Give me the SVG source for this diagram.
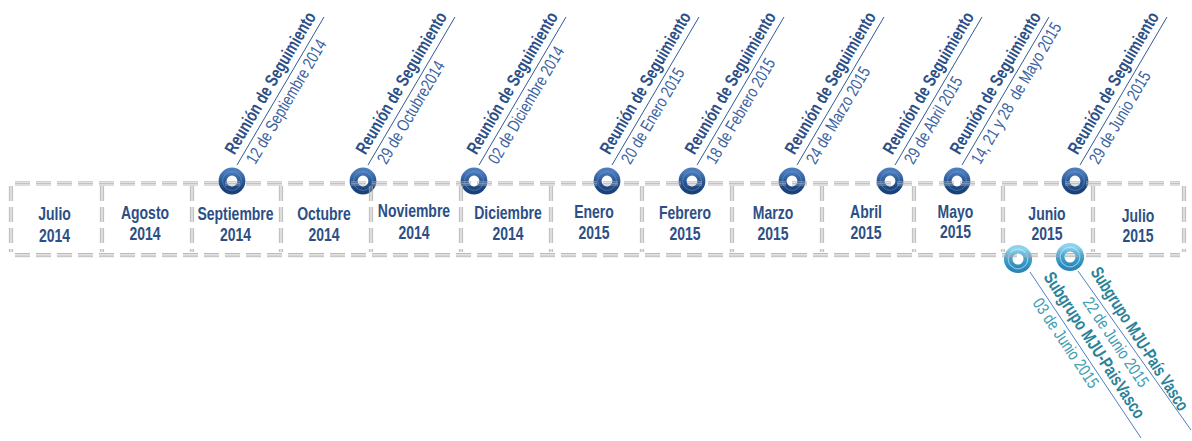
<svg xmlns="http://www.w3.org/2000/svg" width="1192" height="441" viewBox="0 0 1192 441">
<defs>
<style>
.fr line{stroke:#a9a9a9;stroke-width:0.8;stroke-dasharray:15 6;fill:none}
.mo{font-family:"Liberation Sans",Arial,sans-serif;font-weight:bold;font-size:17.5px;fill:#2c4f86;text-anchor:middle}
.rt{font-family:"Liberation Sans",Arial,sans-serif;font-weight:bold;font-size:18px;fill:#2c4f86}
.rd{font-family:"Liberation Sans",Arial,sans-serif;font-size:17px;fill:#3a62a0}
.sb{font-family:"Liberation Sans",Arial,sans-serif;font-weight:bold;font-size:18px;fill:#2b8298}
.sd{font-family:"Liberation Sans",Arial,sans-serif;font-size:17px;fill:#3c9db2}
.ld{stroke:#2f5c98;stroke-width:1;fill:none}
.ll{stroke:#4f80c2;stroke-width:1;fill:none}
</style>
<linearGradient id="gDark" x1="0" y1="0" x2="0" y2="1">
<stop offset="0" stop-color="#4c7cbc"/>
<stop offset="0.5" stop-color="#2a5896"/>
<stop offset="1" stop-color="#1a4279"/>
</linearGradient>
<linearGradient id="gLight" x1="0" y1="0" x2="0" y2="1">
<stop offset="0" stop-color="#8fd2ec"/>
<stop offset="0.45" stop-color="#45a4d0"/>
<stop offset="1" stop-color="#2a86b8"/>
</linearGradient>
<g id="ringD">
<circle r="9.4" fill="none" stroke="url(#gDark)" stroke-width="8"/>
<circle r="9.4" fill="none" stroke="#7ea6d8" stroke-width="1" opacity="0.45"/>
</g>
<g id="ringL">
<circle r="9.8" fill="none" stroke="url(#gLight)" stroke-width="8.6"/>
<circle r="9.8" fill="none" stroke="#c8eefa" stroke-width="1.2" opacity="0.6"/>
</g>
<g id="div" stroke="#a9a9a9" stroke-width="0.8" stroke-dasharray="15 6" fill="none">
<line x1="-1.6" y1="186" x2="-1.6" y2="252"/>
<line x1="0" y1="186" x2="0" y2="252"/>
<line x1="1.6" y1="186" x2="1.6" y2="252"/>
</g>
</defs>
<rect width="1192" height="441" fill="#ffffff"/>

<g id="rings">
<use href="#ringD" x="232" y="181"/>
<use href="#ringD" x="363" y="181"/>
<use href="#ringD" x="474" y="181"/>
<use href="#ringD" x="607" y="181"/>
<use href="#ringD" x="692" y="181"/>
<use href="#ringD" x="792" y="181"/>
<use href="#ringD" x="890" y="181"/>
<use href="#ringD" x="957" y="181"/>
<use href="#ringD" x="1075" y="181"/>
<use href="#ringL" x="1018" y="259"/>
<use href="#ringL" x="1070" y="257"/>
</g>

<g id="frame" class="fr">
<line x1="15" y1="181.8" x2="1180" y2="181.8"/>
<line x1="15" y1="183.4" x2="1180" y2="183.4"/>
<line x1="15" y1="185" x2="1180" y2="185"/>
<line x1="15" y1="253.5" x2="1180" y2="253.5"/>
<line x1="15" y1="255.1" x2="1180" y2="255.1"/>
<line x1="15" y1="256.7" x2="1180" y2="256.7"/>
<use href="#div" x="11"/>
<use href="#div" x="102"/>
<use href="#div" x="192"/>
<use href="#div" x="281"/>
<use href="#div" x="371"/>
<use href="#div" x="461"/>
<use href="#div" x="551"/>
<use href="#div" x="642"/>
<use href="#div" x="732"/>
<use href="#div" x="822"/>
<use href="#div" x="914"/>
<use href="#div" x="1003"/>
<use href="#div" x="1093"/>
<use href="#div" x="1184"/>
</g>

<g id="m-jul14" class="mo"><text transform="translate(54.5,220) scale(0.8,1)">Julio</text><text transform="translate(54.5,242) scale(0.8,1)">2014</text></g>
<g id="m-ago14" class="mo"><text transform="translate(145,219) scale(0.8,1)">Agosto</text><text transform="translate(145,240) scale(0.8,1)">2014</text></g>
<g id="m-sep14" class="mo"><text transform="translate(235.5,220) scale(0.8,1)">Septiembre</text><text transform="translate(235.5,241) scale(0.8,1)">2014</text></g>
<g id="m-oct14" class="mo"><text transform="translate(324,220) scale(0.8,1)">Octubre</text><text transform="translate(324,241) scale(0.8,1)">2014</text></g>
<g id="m-nov14" class="mo"><text transform="translate(414,217) scale(0.8,1)">Noviembre</text><text transform="translate(414,239) scale(0.8,1)">2014</text></g>
<g id="m-dic14" class="mo"><text transform="translate(508,219) scale(0.8,1)">Diciembre</text><text transform="translate(508,240) scale(0.8,1)">2014</text></g>
<g id="m-ene15" class="mo"><text transform="translate(594,218) scale(0.8,1)">Enero</text><text transform="translate(594,239) scale(0.8,1)">2015</text></g>
<g id="m-feb15" class="mo"><text transform="translate(685,219) scale(0.8,1)">Febrero</text><text transform="translate(685,240) scale(0.8,1)">2015</text></g>
<g id="m-mar15" class="mo"><text transform="translate(773,219) scale(0.8,1)">Marzo</text><text transform="translate(773,240) scale(0.8,1)">2015</text></g>
<g id="m-abr15" class="mo"><text transform="translate(866,218) scale(0.8,1)">Abril</text><text transform="translate(866,239) scale(0.8,1)">2015</text></g>
<g id="m-may15" class="mo"><text transform="translate(955.5,217.5) scale(0.8,1)">Mayo</text><text transform="translate(955.5,238) scale(0.8,1)">2015</text></g>
<g id="m-jun15" class="mo"><text transform="translate(1047,220) scale(0.8,1)">Junio</text><text transform="translate(1047,240) scale(0.8,1)">2015</text></g>
<g id="m-jul15" class="mo"><text transform="translate(1138,222) scale(0.8,1)">Julio</text><text transform="translate(1138,242) scale(0.8,1)">2015</text></g>

<g id="connectors">
<line class="ld" x1="237" y1="165" x2="324" y2="17"/>
<line class="ld" x1="368" y1="165" x2="455" y2="17"/>
<line class="ld" x1="479" y1="165" x2="566" y2="17"/>
<line class="ld" x1="612" y1="165" x2="699" y2="17"/>
<line class="ld" x1="697" y1="165" x2="784" y2="17"/>
<line class="ld" x1="797" y1="165" x2="884" y2="17"/>
<line class="ld" x1="895" y1="165" x2="982" y2="17"/>
<line class="ld" x1="962" y1="165" x2="1049" y2="17"/>
<line class="ld" x1="1080" y1="165" x2="1167" y2="17"/>
<line class="ll" x1="1030" y1="272" x2="1141" y2="438"/>
<line class="ll" x1="1078" y1="271" x2="1191" y2="430"/>
</g>

<g id="e-sep14" transform="translate(237,165) rotate(-59.5)"><text class="rt" transform="translate(7,-7) scale(0.765,1)">Reunión de Seguimiento</text><text class="rd" transform="translate(9,16) scale(0.8,1)">12 de Septiembre 2014</text></g>
<g id="e-oct14" transform="translate(368,165) rotate(-59.5)"><text class="rt" transform="translate(7,-7) scale(0.765,1)">Reunión de Seguimiento</text><text class="rd" transform="translate(9,16) scale(0.8,1)">29 de Octubre2014</text></g>
<g id="e-dic14" transform="translate(479,165) rotate(-59.5)"><text class="rt" transform="translate(7,-7) scale(0.765,1)">Reunión de Seguimiento</text><text class="rd" transform="translate(9,16) scale(0.8,1)">02 de Diciembre 2014</text></g>
<g id="e-ene15" transform="translate(612,165) rotate(-59.5)"><text class="rt" transform="translate(7,-7) scale(0.765,1)">Reunión de Seguimiento</text><text class="rd" transform="translate(9,16) scale(0.8,1)">20 de Enero 2015</text></g>
<g id="e-feb15" transform="translate(697,165) rotate(-59.5)"><text class="rt" transform="translate(7,-7) scale(0.765,1)">Reunión de Seguimiento</text><text class="rd" transform="translate(9,16) scale(0.8,1)">18 de Febrero 2015</text></g>
<g id="e-mar15" transform="translate(797,165) rotate(-59.5)"><text class="rt" transform="translate(7,-7) scale(0.765,1)">Reunión de Seguimiento</text><text class="rd" transform="translate(9,16) scale(0.8,1)">24 de Marzo 2015</text></g>
<g id="e-abr15" transform="translate(895,165) rotate(-59.5)"><text class="rt" transform="translate(7,-7) scale(0.765,1)">Reunión de Seguimiento</text><text class="rd" transform="translate(9,16) scale(0.8,1)">29 de Abril 2015</text></g>
<g id="e-may15" transform="translate(962,165) rotate(-59.5)"><text class="rt" transform="translate(7,-7) scale(0.765,1)">Reunión de Seguimiento</text><text class="rd" transform="translate(9,16) scale(0.8,1)">14, 21 y 28&#160; de Mayo 2015</text></g>
<g id="e-jun15" transform="translate(1080,165) rotate(-59.5)"><text class="rt" transform="translate(7,-7) scale(0.765,1)">Reunión de Seguimiento</text><text class="rd" transform="translate(9,16) scale(0.8,1)">29 de Junio 2015</text></g>

<g id="s-jun03"><text class="sb" transform="translate(1043,277) rotate(57) scale(0.765,1)">Subgrupo MJU-PaisVasco</text><text class="sd" transform="translate(1032,303) rotate(56) scale(0.8,1)">03 de Junio 2015</text></g>
<g id="s-jun22"><text class="sb" transform="translate(1090,272) rotate(57.5) scale(0.73,1)">Subgrupo MJU-País Vasco</text><text class="sd" transform="translate(1082,302) rotate(56) scale(0.8,1)">22 de Junio 2015</text></g>
</svg>
